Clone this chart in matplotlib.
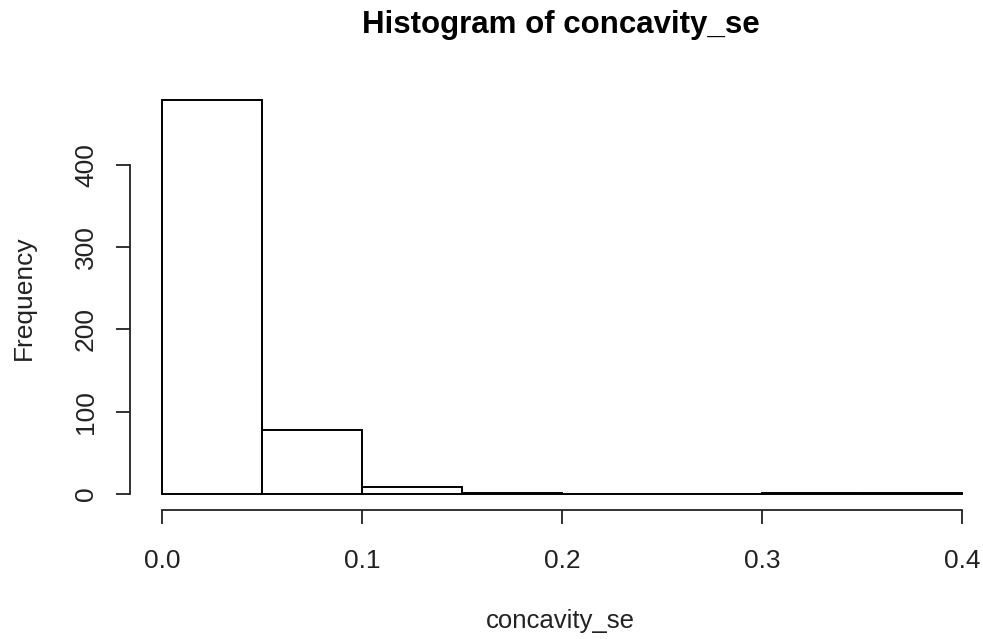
import numpy as np
import matplotlib
matplotlib.use("Agg")
import matplotlib.pyplot as plt

plt.rcParams["font.family"] = ["Liberation Sans", "DejaVu Sans"]

# bin edges and counts
BIN_EDGES = [0.0, 0.05, 0.10, 0.15, 0.20, 0.25, 0.30, 0.35, 0.40]
COUNTS = [479, 78, 9, 1, 0, 0, 1, 1]
X_TICKS = [0.0, 0.1, 0.2, 0.3, 0.4]
Y_TICKS = [0, 100, 200, 300, 400]

W, H = 983, 639
fig = plt.figure(figsize=(W / 100, H / 100), dpi=100)
# plot region in pixels (R-style 4% padding around data range)
left, right, top, bottom = 130, 994, 84.2, 509.8
ax = fig.add_axes([left / W, 1 - bottom / H, (right - left) / W, (bottom - top) / H])

edges = np.array(BIN_EDGES)
ax.bar(edges[:-1], COUNTS, width=np.diff(edges), align="edge",
       facecolor="white", edgecolor="black", linewidth=1.4)

xr = BIN_EDGES[-1] - BIN_EDGES[0]
yr = max(COUNTS)
ax.set_xlim(BIN_EDGES[0] - 0.04 * xr, BIN_EDGES[-1] + 0.04 * xr)
ax.set_ylim(-0.04 * yr, yr * 1.04)

for s in ["top", "right"]:
    ax.spines[s].set_visible(False)
ax.spines["left"].set_bounds(0, 400)
ax.spines["bottom"].set_bounds(0, 0.4)
for s in ["left", "bottom"]:
    ax.spines[s].set_linewidth(1.3)
    ax.spines[s].set_color("#222222")

ax.set_xticks(X_TICKS)
ax.set_xticklabels(["0.0", "0.1", "0.2", "0.3", "0.4"])
ax.set_yticks(Y_TICKS)
ax.set_yticklabels([str(v) for v in Y_TICKS], rotation=90, va="center")
ax.tick_params(axis="both", length=10, width=1.3, color="#222222",
               labelsize=19, labelcolor="#222222")
ax.tick_params(axis="x", pad=18)
ax.tick_params(axis="y", pad=13)

fig.text(560.5 / W, 1 - 628 / H, "concavity_se", ha="center", va="baseline",
         fontsize=18.5, color="#222222")
fig.text(24 / W, 1 - 297.5 / H, "Frequency", ha="center", va="center",
         rotation=90, fontsize=19, color="#222222")
fig.text(561 / W, 1 - 25 / H, "Histogram of concavity_se",
         ha="center", va="center", fontsize=22.5, fontweight="bold")

fig.savefig("out.png", dpi=100)
